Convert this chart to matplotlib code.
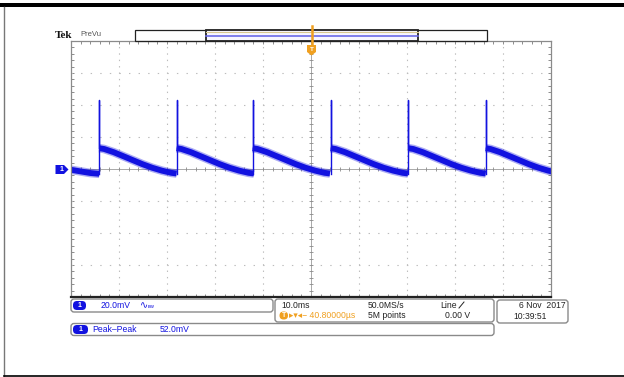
import numpy as np
import matplotlib.pyplot as plt
from matplotlib.patches import FancyBboxPatch, Rectangle, Polygon
from matplotlib.ticker import MultipleLocator

plt.rcParams['font.family'] = ['Liberation Sans', 'DejaVu Sans']
plt.rcParams['lines.scale_dashes'] = False

# Scope settings: 10.0 ms/div, 20.0 mV/div, 10 x 8 divisions
time_per_div = 10.0
volts_per_div = 20.0

# Channel 1 ripple (ms, mV)
spike_times = [5.9, 22.0, 37.85, 54.1, 70.3, 86.4]
spike_peaks = [43.0, 43.0, 43.0, 43.0, 43.0, 43.0]
lead_t = [0.0, 2.0, 4.0, 5.9]
lead_mv = [-0.5, -1.5, -2.5, -3.0]
ramp_t = [0.0, 1.0, 3.0, 5.0, 7.0, 9.0, 11.0, 13.0, 15.0, 16.1]
ramp_mv = [13.0, 12.5, 10.5, 8.0, 5.5, 3.0, 0.8, -1.0, -2.4, -2.8]

BLUE = '#1212e0'
ORANGE = '#f0a020'
GREY = '#8a8a8a'

fig = plt.figure(figsize=(6.24, 3.77), dpi=100)
fig.patch.set_facecolor('white')

# graticule
ax = fig.add_axes([71 / 624, 1 - 297 / 377, 480 / 624, 256 / 377])
ax.set_xlim(0, 10 * time_per_div)
ax.set_ylim(-4 * volts_per_div, 4 * volts_per_div)
ax.xaxis.set_major_locator(MultipleLocator(time_per_div))
ax.yaxis.set_major_locator(MultipleLocator(volts_per_div))
ax.xaxis.set_minor_locator(MultipleLocator(time_per_div / 5))
ax.yaxis.set_minor_locator(MultipleLocator(volts_per_div / 5))
ax.tick_params(which='both', direction='in', length=2.5, width=0.6,
               color='#7a7a7a', top=True, right=True,
               labelbottom=False, labelleft=False)
for x in np.arange(time_per_div, 100, time_per_div):
    if x != 50:
        ax.axvline(x, color='#bcbcbc', lw=0.8, dashes=(1, 3.6))
for y in np.arange(-60, 61, volts_per_div):
    if y != 0:
        ax.axhline(y, color='#bcbcbc', lw=0.8, dashes=(1, 5.9))
ax.axhline(0, color='#9a9a9a', lw=0.6)
ax.axvline(50, color='#9a9a9a', lw=0.6)
minor_x = np.arange(0, 101, time_per_div / 5)
minor_y = np.arange(-80, 81, volts_per_div / 5)
ax.plot(minor_x, np.zeros_like(minor_x), ls='none', marker='|', ms=3.5,
        mew=0.6, color='#8a8a8a')
ax.plot(np.full_like(minor_y, 50), minor_y, ls='none', marker='_', ms=3.5,
        mew=0.6, color='#8a8a8a')
for side in ['left', 'right', 'top']:
    ax.spines[side].set_color(GREY)
    ax.spines[side].set_linewidth(0.9)
ax.spines['bottom'].set_color('#222222')
ax.spines['bottom'].set_linewidth(1.6)

# waveform: noisy ramps drawn as a thick band with a soft fringe,
# spikes as thin lines
ax.plot(lead_t, lead_mv, color=BLUE, lw=6.2, alpha=0.35, solid_capstyle='butt')
ax.plot(lead_t, lead_mv, color=BLUE, lw=4.2, solid_capstyle='butt')
for s, peak in zip(spike_times, spike_peaks):
    t = [s + r for r in ramp_t]
    ax.plot(t, ramp_mv, color=BLUE, lw=6.2, alpha=0.35, solid_capstyle='butt')
    ax.plot(t, ramp_mv, color=BLUE, lw=4.2, solid_capstyle='butt')
    ax.plot([s, s, s], [lead_mv[-1], peak, ramp_mv[0]], color=BLUE, lw=1.0)

# overlay in pixel units for the instrument chrome
ov = fig.add_axes([0, 0, 1, 1], zorder=5)
ov.set_xlim(0, 624)
ov.set_ylim(377, 0)
ov.axis('off')
ov.patch.set_alpha(0)

ov.add_patch(Rectangle((0, 3.3), 624, 3.6, color='black', lw=0))
ov.plot([4, 4], [7, 376], color='#777777', lw=1)
ov.plot([4, 624], [376, 376], color='black', lw=1.2)

ov.text(55, 35.5, 'Tek', fontsize=8, fontweight='bold',
        family='Liberation Serif', va='center', ha='left', color='#111111')
ov.text(80, 35, 'PreVu', fontsize=5.5, va='center', ha='left', color='#555555')

# record view bar
ov.add_patch(Rectangle((135, 30), 352, 10.5, fill=False, ec='#222222', lw=0.9))
ov.add_patch(Rectangle((206, 30), 212, 10.5, fc='#f6f6ff', ec='#222222', lw=1.3))
ov.plot([206, 418], [32.3, 32.3], color='#d8c890', lw=0.8)
ov.plot([206, 418], [35.5, 35.5], color='#6a6ae8', lw=1.2)

# trigger position marker
ov.plot([311.5, 311.5], [26, 46], color=ORANGE, lw=1.8)
ov.add_patch(Polygon([(307, 45), (316, 45), (316, 52), (311.5, 55.5), (307, 52)],
                     closed=True, color=ORANGE, lw=0))
ov.text(311.5, 49.5, 'T', fontsize=4.5, color='white', ha='center',
        va='center', fontweight='bold')

# channel 1 ground marker
ov.add_patch(Polygon([(55.5, 165), (64, 165), (68.5, 169.5), (64, 174), (55.5, 174)],
                     closed=True, color=BLUE, lw=0))
ov.text(61, 169.7, '1', fontsize=5, color='white', ha='center', va='center',
        fontweight='bold')


def box(x0, y0, x1, y1):
    ov.add_patch(FancyBboxPatch((x0, y0), x1 - x0, y1 - y0,
                                boxstyle='round,pad=0,rounding_size=3',
                                fc='white', ec=GREY, lw=1))


def pill(x0, y0, x1, y1, color, label):
    ov.add_patch(FancyBboxPatch((x0, y0), x1 - x0, y1 - y0,
                                boxstyle='round,pad=0,rounding_size=4',
                                fc=color, ec='none'))
    ov.text((x0 + x1) / 2, (y0 + y1) / 2 + 0.3, label, fontsize=5,
            color='white', ha='center', va='center', fontweight='bold')


fs = 6.2
box(71, 299, 273, 312)
box(275, 299, 494, 322)
box(497, 300, 568, 323)
box(71, 323.5, 494, 335.5)

pill(73, 301, 86, 310, BLUE, '1')
ov.text(101, 305.5, '20.0mV', fontsize=fs, color=BLUE, va='center')
ov.text(140, 305.5, '\u223f', fontsize=7, color=BLUE, va='center')
ov.text(148, 307, 'ʙᴡ', fontsize=4, color=BLUE, va='center')

ov.text(281, 305, '10.0ms', fontsize=fs, color='#222222', va='center')
ov.text(368, 305, '50.0MS/s', fontsize=fs, color='#222222', va='center')
ov.text(440, 305, 'Line', fontsize=fs, color='#222222', va='center')
ov.plot([459, 464], [308, 302], color='#222222', lw=0.7)
pill(279.5, 311.5, 288, 319.5, ORANGE, 'T')
ov.text(289, 315.5, '\u25b8\u25be\u25c2\u2212 40.80000\u00b5s', fontsize=fs,
        color=ORANGE, va='center')
ov.text(368, 315.5, '5M points', fontsize=fs, color='#222222', va='center')
ov.text(470, 315.5, '0.00 V', fontsize=fs, color='#222222', va='center', ha='right')

ov.text(566, 305.5, '6 Nov  2017', fontsize=fs, color='#222222', va='center',
        ha='right')
ov.text(513, 316.5, '10:39:51', fontsize=fs, color='#222222', va='center')

pill(73, 325, 88, 334, BLUE, '1')
ov.text(92, 329.5, 'Peak\u2013Peak', fontsize=fs, color=BLUE, va='center')
ov.text(160, 329.5, '52.0mV', fontsize=fs, color=BLUE, va='center')

fig.savefig('out.png', dpi=100)
